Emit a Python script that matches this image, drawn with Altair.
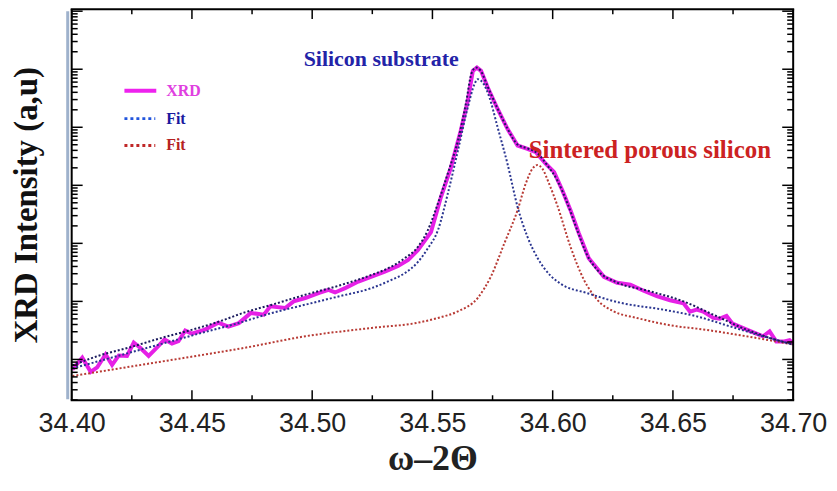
import altair as alt
import pandas as pd

# ---------------- data ----------------
# XRD measured curve: 2theta-omega position and log10(intensity)
xrd_x = [34.4003, 34.4044, 34.4079, 34.4106, 34.4141, 34.4168, 34.4196, 34.4230, 34.4258, 34.4286,
         34.4320, 34.4355, 34.4386, 34.4417, 34.4444, 34.4472, 34.4499, 34.4554, 34.4610, 34.4651,
         34.4695, 34.4745, 34.4799, 34.4826, 34.4888, 34.4923, 34.4971, 34.5026, 34.5068, 34.5095,
         34.5137, 34.5192, 34.5247, 34.5302, 34.5357, 34.5399, 34.5440, 34.5494, 34.5535, 34.5577,
         34.5618, 34.5647, 34.5668, 34.5685, 34.5702, 34.5730, 34.5771, 34.5812, 34.5854, 34.5895,
         34.5930, 34.5971, 34.6006, 34.6040, 34.6074, 34.6109, 34.6150, 34.6213, 34.6268, 34.6323,
         34.6378, 34.6433, 34.6488, 34.6544, 34.6571, 34.6599, 34.6626, 34.6668, 34.6695, 34.6723,
         34.6748, 34.6797, 34.6847, 34.6875, 34.6902, 34.6930, 34.6963, 34.6985, 34.7000]
xrd_logI = [0.829, 1.029, 0.786, 0.863, 1.086, 0.906, 1.069, 1.060, 1.291, 1.197,
            1.060, 1.206, 1.343, 1.274, 1.314, 1.497, 1.446, 1.514, 1.634, 1.566,
            1.626, 1.801, 1.771, 1.914, 1.886, 2.000, 2.058, 2.144, 2.200, 2.154,
            2.229, 2.342, 2.428, 2.514, 2.612, 2.714, 2.886, 3.194, 3.794, 4.309,
            4.943, 5.457, 5.972, 6.028, 5.972, 5.685, 5.315, 4.972, 4.686, 4.629,
            4.571, 4.372, 4.228, 3.914, 3.572, 3.172, 2.744, 2.423, 2.320, 2.286,
            2.183, 2.089, 2.020, 1.969, 1.823, 1.857, 1.823, 1.715, 1.703, 1.749,
            1.617, 1.531, 1.446, 1.399, 1.485, 1.309, 1.309, 1.331, 1.274]

# total fit
fit_x = [34.4003, 34.4116, 34.4240, 34.4364, 34.4488, 34.4612, 34.4720, 34.4833, 34.4971, 34.5109,
         34.5247, 34.5316, 34.5385, 34.5440, 34.5481, 34.5523, 34.5564, 34.5606, 34.5639, 34.5663,
         34.5681, 34.5701, 34.5730, 34.5771, 34.5812, 34.5854, 34.5895, 34.5937, 34.5978, 34.6019,
         34.6061, 34.6102, 34.6143, 34.6185, 34.6268, 34.6392, 34.6544, 34.6668, 34.6806, 34.6902,
         34.7000]
fit_logI = [0.897, 1.069, 1.206, 1.360, 1.497, 1.651, 1.811, 1.943, 2.114, 2.269,
            2.457, 2.572, 2.744, 2.942, 3.229, 3.692, 4.206, 4.772, 5.406, 5.937,
            6.028, 5.972, 5.697, 5.320, 4.977, 4.703, 4.635, 4.549, 4.343, 4.086,
            3.692, 3.229, 2.800, 2.543, 2.325, 2.188, 2.000, 1.771, 1.514, 1.372,
            1.257]

# silicon substrate component (blue)
si_x = [34.4003, 34.4199, 34.4364, 34.4530, 34.4695, 34.4833, 34.4971, 34.5109, 34.5247, 34.5330,
        34.5385, 34.5440, 34.5481, 34.5523, 34.5564, 34.5606, 34.5647, 34.5675, 34.5688, 34.5709,
        34.5737, 34.5771, 34.5812, 34.5854, 34.5895, 34.5937, 34.5992, 34.6033, 34.6143, 34.6281,
        34.6461, 34.6599, 34.6736, 34.6875, 34.7000]
si_logI = [0.846, 1.069, 1.257, 1.446, 1.629, 1.801, 1.943, 2.085, 2.229, 2.372,
           2.486, 2.680, 2.915, 3.229, 3.858, 4.600, 5.343, 5.744, 5.829, 5.771,
           5.514, 5.000, 4.372, 3.628, 3.114, 2.749, 2.440, 2.303, 2.143, 1.977,
           1.857, 1.742, 1.571, 1.399, 1.257]

# sintered porous silicon component (red)
ps_x = [34.4003, 34.4199, 34.4364, 34.4530, 34.4720, 34.4971, 34.5247, 34.5440, 34.5523, 34.5606,
        34.5688, 34.5743, 34.5799, 34.5854, 34.5888, 34.5916, 34.5937, 34.5957, 34.5985, 34.6019,
        34.6074, 34.6130, 34.6185, 34.6254, 34.6350, 34.6516, 34.6599, 34.6806, 34.7000]
ps_logI = [0.714, 0.846, 0.957, 1.069, 1.201, 1.399, 1.543, 1.634, 1.715, 1.828,
           2.058, 2.428, 3.001, 3.572, 4.029, 4.287, 4.352, 4.287, 4.029, 3.657,
           2.942, 2.372, 2.029, 1.828, 1.715, 1.571, 1.531, 1.399, 1.257]

x_tick_labels = [34.40, 34.45, 34.50, 34.55, 34.60, 34.65, 34.70]
x_minor_ticks = [34.425, 34.475, 34.525, 34.575, 34.625, 34.675]
y_major_ticks = [1e1, 1e2, 1e3, 1e4, 1e5, 1e6, 1e7]
y_minor_ticks = [k * 10 ** e for e in range(0, 7) for k in range(2, 10)]

legend_labels = ["XRD", "Fit", "Fit"]
annotations = ["Silicon substrate", "Sintered porous silicon"]

# ---------------- chart ----------------
W, H = 725, 393
SERIF = "Liberation Serif"
SANS = "Liberation Sans"
YLO, YHI = 10 ** 0.297, 10 ** 7.035

xs = alt.Scale(domain=[34.40, 34.70], nice=False, zero=False)
ys = alt.Scale(type="log", domain=[YLO, YHI], nice=False)

x_axis = alt.Axis(
    values=x_tick_labels, format=".2f", labelFont=SANS, labelFontSize=27,
    labelColor="#222222", labelPadding=10, labelFlush=False, labelOverlap=False,
    labelBound=False, ticks=False, domain=False, grid=False,
    title="ω–2Θ", titleFont=SERIF, titleFontSize=36, titleFontWeight="bold",
    titleColor="#222222", titlePadding=6)
y_axis = alt.Axis(
    labels=False, ticks=False, domain=False, grid=False,
    title="XRD Intensity (a,u)", titleFont=SERIF, titleFontSize=33,
    titleFontWeight="bold", titleColor="#111111", titlePadding=28)

X = lambda: alt.X("x:Q", scale=xs, axis=x_axis)
Y = lambda: alt.Y("I:Q", scale=ys, axis=y_axis)


def line_layer(xv, lv, color, width, dash=None, interp="linear"):
    kw = dict(color=color, strokeWidth=width, interpolate=interp, clip=True)
    if dash:
        kw["strokeDash"] = dash
    df = pd.DataFrame({"x": xv, "logI": lv})
    return (alt.Chart(df).transform_calculate(I="pow(10, datum.logI)")
            .mark_line(**kw).encode(x=X(), y=Y(), order="x:Q"))


xrd_layer = line_layer(xrd_x, xrd_logI, "#e620e6", 4)
ps_layer = line_layer(ps_x, ps_logI, "#b83a34", 2, dash=[2, 2], interp="monotone")
si_layer = line_layer(si_x, si_logI, "#2a3590", 2, dash=[2, 2], interp="monotone")
fit_layer = line_layer(fit_x, fit_logI, "#1a1a5e", 2, dash=[2, 2], interp="monotone")

# inward ticks on all four sides
xmaj = pd.DataFrame({"x": x_tick_labels})
xmin = pd.DataFrame({"x": x_minor_ticks})
ymaj = pd.DataFrame({"I": y_major_ticks})
ymin = pd.DataFrame({"I": [v for v in y_minor_ticks if YLO <= v <= YHI]})


def xticks(df, y0, y1):
    return alt.Chart(df).mark_rule(color="black", strokeWidth=1.5).encode(
        x=X(), y=alt.value(y0), y2=alt.value(y1))


def yticks(df, x0, x1):
    return alt.Chart(df).mark_rule(color="black", strokeWidth=1.5).encode(
        y=Y(), x=alt.value(x0), x2=alt.value(x1))


ticks = [
    xticks(xmaj, H, H - 10), xticks(xmin, H, H - 5),
    xticks(xmaj, 0, 10), xticks(xmin, 0, 5),
    yticks(ymaj, 0, 11), yticks(ymin, 0, 6),
    yticks(ymaj, W, W - 11), yticks(ymin, W, W - 6),
]

one = pd.DataFrame({"k": [0]})
shadow = alt.Chart(one).mark_rule(color="#9fb2cc", strokeWidth=3).encode(
    x=alt.value(-4), x2=alt.value(-4), y=alt.value(2), y2=alt.value(H - 1))


def edge(x0, x1, y0, y1):
    return alt.Chart(one).mark_rule(color="black", strokeWidth=2).encode(
        x=alt.value(x0), x2=alt.value(x1), y=alt.value(y0), y2=alt.value(y1))


frame = [edge(-1, W + 1, 0, 0), edge(-1, W + 1, H, H), edge(0, 0, 0, H), edge(W, W, 0, H)]

# legend
leg_xrd = alt.Chart(one).mark_rule(color="#ee22ee", strokeWidth=4).encode(
    x=alt.value(53), x2=alt.value(85), y=alt.value(82), y2=alt.value(82))
leg_fit1 = alt.Chart(one).mark_rule(color="#2255dd", strokeWidth=3, strokeDash=[3, 3]).encode(
    x=alt.value(53), x2=alt.value(84), y=alt.value(110), y2=alt.value(110))
leg_fit2 = alt.Chart(one).mark_rule(color="#c02828", strokeWidth=3, strokeDash=[3, 3]).encode(
    x=alt.value(53), x2=alt.value(84), y=alt.value(137), y2=alt.value(137))
leg_cols = ["#e040e0", "#1a1a9e", "#b52222"]
leg_y = [82, 110, 137]
leg_texts = [
    alt.Chart(pd.DataFrame({"t": [lab]})).mark_text(
        align="left", baseline="middle", font=SERIF, fontSize=16, fontWeight="bold", color=c
    ).encode(text="t:N", x=alt.value(95), y=alt.value(yy))
    for lab, c, yy in zip(legend_labels, leg_cols, leg_y)
]

ann1 = alt.Chart(pd.DataFrame({"t": [annotations[0]]})).mark_text(
    align="center", baseline="middle", font=SERIF, fontSize=22, fontWeight="bold", color="#2323a8"
).encode(text="t:N", x=alt.value(311), y=alt.value(50))
ann2 = alt.Chart(pd.DataFrame({"t": [annotations[1]]})).mark_text(
    align="center", baseline="middle", font=SERIF, fontSize=25, fontWeight="bold", color="#cc2222"
).encode(text="t:N", x=alt.value(581), y=alt.value(142))

chart = alt.layer(
    xrd_layer, ps_layer, si_layer, fit_layer, *ticks, shadow, *frame,
    leg_xrd, leg_fit1, leg_fit2, *leg_texts, ann1, ann2
).properties(
    width=W, height=H,
    background="white",
    autosize=alt.AutoSizeParams(type="none"),
    padding={"left": 64, "top": 0, "right": 36, "bottom": 82},
).configure_view(stroke=None)

chart.save("out.html", embed_options={"renderer": "svg", "actions": False})
